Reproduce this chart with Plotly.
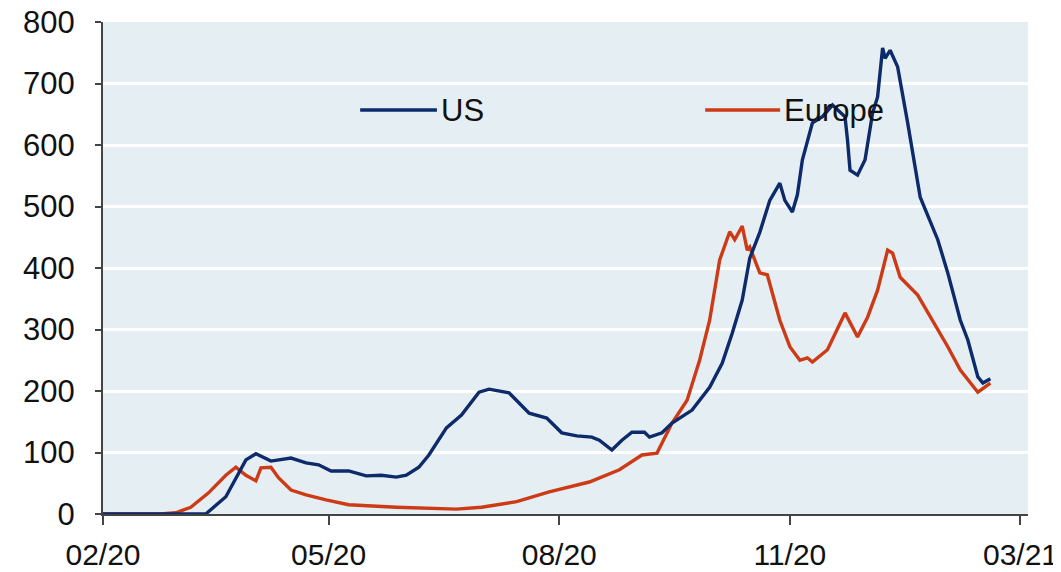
import plotly.graph_objects as go

# daily new cases (7d avg)
us_dates = ["2020-02-01", "2020-03-13", "2020-03-21", "2020-03-26", "2020-03-29", "2020-04-02",
            "2020-04-06", "2020-04-08", "2020-04-16", "2020-04-22", "2020-04-27", "2020-05-02",
            "2020-05-09", "2020-05-16", "2020-05-22", "2020-05-28", "2020-06-01", "2020-06-06",
            "2020-06-10", "2020-06-17", "2020-06-23", "2020-06-30", "2020-07-04", "2020-07-12",
            "2020-07-20", "2020-07-27", "2020-08-02", "2020-08-08", "2020-08-14", "2020-08-17",
            "2020-08-22", "2020-08-26", "2020-08-30", "2020-09-04", "2020-09-06", "2020-09-11",
            "2020-09-15", "2020-09-23", "2020-09-30", "2020-10-05", "2020-10-09", "2020-10-13",
            "2020-10-16", "2020-10-20", "2020-10-24", "2020-10-28", "2020-10-30", "2020-11-02",
            "2020-11-04", "2020-11-06", "2020-11-10", "2020-11-14", "2020-11-18", "2020-11-23",
            "2020-11-24", "2020-11-25", "2020-11-28", "2020-12-01", "2020-12-04", "2020-12-06",
            "2020-12-08", "2020-12-09", "2020-12-11", "2020-12-14", "2020-12-18", "2020-12-23",
            "2020-12-30", "2021-01-03", "2021-01-08", "2021-01-11", "2021-01-15", "2021-01-17",
            "2021-01-20"]
us_vals = [0, 0, 28, 67, 88, 98,
           91, 86, 91, 83, 80, 70,
           70, 62, 63, 60, 63, 76,
           96, 140, 161, 198, 203, 197,
           164, 156, 132, 127, 125, 120,
           104, 120, 133, 133, 125, 132,
           148, 169, 206, 245, 294, 348,
           416, 458, 510, 538, 510, 491,
           519, 576, 636, 646, 665, 646,
           608, 559, 551, 576, 652, 678,
           758, 741, 754, 727, 636, 515,
           446, 392, 315, 283, 223, 213,
           220]

eu_dates = ["2020-02-01", "2020-02-24", "2020-03-01", "2020-03-07", "2020-03-14", "2020-03-21",
            "2020-03-25", "2020-03-29", "2020-04-02", "2020-04-04", "2020-04-08", "2020-04-11",
            "2020-04-16", "2020-04-22", "2020-04-30", "2020-05-09", "2020-05-28", "2020-06-21",
            "2020-07-01", "2020-07-15", "2020-07-28", "2020-08-13", "2020-08-25", "2020-09-03",
            "2020-09-09", "2020-09-15", "2020-09-21", "2020-09-26", "2020-09-30", "2020-10-04",
            "2020-10-08", "2020-10-10", "2020-10-13", "2020-10-15", "2020-10-16", "2020-10-20",
            "2020-10-23", "2020-10-28", "2020-11-01", "2020-11-05", "2020-11-08", "2020-11-10",
            "2020-11-16", "2020-11-20", "2020-11-23", "2020-11-28", "2020-12-02", "2020-12-06",
            "2020-12-10", "2020-12-12", "2020-12-15", "2020-12-22", "2020-12-28", "2021-01-03",
            "2021-01-08", "2021-01-15", "2021-01-20"]
eu_vals = [0, 0, 2, 11, 34, 63,
           76, 63, 54, 75, 76, 59,
           39, 31, 23, 15, 11, 8,
           11, 20, 36, 52, 72, 96,
           99, 148, 185, 250, 315, 413,
           459, 446, 468, 429, 434, 392,
           389, 315, 272, 250, 254, 247,
           267, 302, 327, 288, 320, 364,
           429, 424, 385, 356, 315, 272,
           234, 198, 213]

tick_dates = ["2020-02-01", "2020-05-01", "2020-08-01", "2020-11-01", "2021-02-01"]
tick_labels = ["02/20", "05/20", "08/20", "11/20", "03/21"]

US_COLOR = "#0d2a6b"
EU_COLOR = "#cc3a16"
FONT = "Arial, Liberation Sans, sans-serif"

fig = go.Figure()
fig.add_trace(go.Scatter(x=eu_dates, y=eu_vals, name="Europe", mode="lines",
                         line=dict(color=EU_COLOR, width=3.4)))
fig.add_trace(go.Scatter(x=us_dates, y=us_vals, name="US", mode="lines",
                         line=dict(color=US_COLOR, width=3.4)))

# legend drawn by hand so the line swatches are long like the original
for x0, x1, col, label in [(0.278, 0.361, US_COLOR, "US"), (0.651, 0.732, EU_COLOR, "Europe")]:
    fig.add_shape(type="line", xref="paper", yref="paper", x0=x0, x1=x1, y0=0.821, y1=0.821,
                  line=dict(color=col, width=3.5))
    fig.add_annotation(xref="paper", yref="paper", x=x1 + 0.002, y=0.821, text=label,
                       showarrow=False, xanchor="left", yanchor="middle",
                       font=dict(size=31, color="#111111", family=FONT))

# page body has an 8px margin, so the figure is shrunk by that much
fig.update_layout(
    width=1053, height=564,
    margin=dict(l=95, r=33, t=14, b=58),
    paper_bgcolor="white",
    plot_bgcolor="#e5eef2",
    showlegend=False,
    font=dict(family=FONT, size=31, color="#111111"),
)
fig.update_xaxes(type="date", range=["2020-02-01", "2021-02-04"],
                 tickvals=tick_dates, ticktext=tick_labels, automargin=False,
                 tickfont=dict(size=30), ticklabeloverflow="allow",
                 showgrid=False, showline=True, linecolor="#444444", linewidth=2,
                 ticks="outside", ticklen=9, tickwidth=2, tickcolor="#444444",
                 ticklabelstandoff=4, zeroline=False)
fig.update_yaxes(range=[0, 800], dtick=100, automargin=False, ticklabeloverflow="allow",
                 showgrid=True, gridcolor="white", gridwidth=2.5,
                 showline=True, linecolor="#444444", linewidth=2,
                 ticks="outside", ticklen=6, tickwidth=2, tickcolor="#444444",
                 ticklabelstandoff=14, zeroline=False)

fig.write_html("out.html")
